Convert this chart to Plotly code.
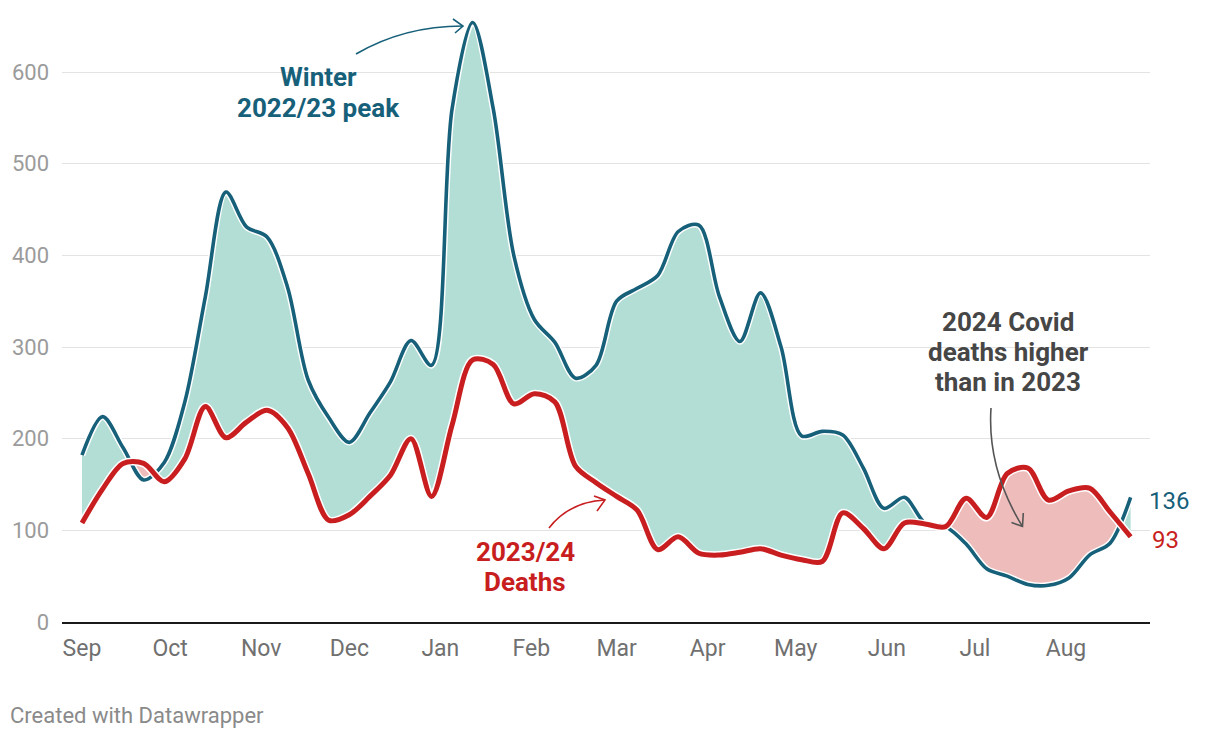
import plotly.graph_objects as go
import pandas as pd

# ---------------- data ----------------
week_start = pd.date_range("2023-09-01", periods=52, freq="7D")

deaths_2022_23 = [182, 224, 190, 155, 174, 240, 355, 469, 431, 420,
                  365, 264, 223, 196, 228, 262, 307, 280, 560, 654,
                  560, 400, 330, 305, 266, 280, 350, 364, 378, 426,
                  433, 355, 306, 359, 300, 203, 208, 204, 168, 124,
                  136, 108, 104, 85, 58, 50, 41, 40, 48, 73,
                  86, 136]

deaths_2023_24 = [108, 145, 173, 173, 153, 178, 235, 201, 218, 231,
                  212, 162, 111, 117, 137, 160, 200, 137, 215, 286,
                  281, 238, 249, 240, 170, 152, 137, 122, 79, 93,
                  75, 73, 76, 80, 73, 68, 66, 119, 102, 80,
                  108, 107, 104, 135, 114, 162, 168, 133, 143, 146,
                  120, 93]

y_ticks = [0, 100, 200, 300, 400, 500, 600]

# ---------------- style ----------------
TEAL = "#17607a"
RED = "#c81e20"
TEAL_FILL = "#b3ded5"
PINK_FILL = "#efbcbc"
GREY_TXT = "#464646"
FONT = "Roboto, sans-serif"

W, H = 1220, 738
L, R, T, B = 62, 1150, 8, 622          # plot area in pixels
PX_PER_UNIT = (622 - 72) / 600.0
y_top = (B - T) / PX_PER_UNIT

px_per_day = (1066 - 82) / 335.0
x_start = week_start[0] - pd.Timedelta(days=(82 - L) / px_per_day)
x_end = week_start[0] + pd.Timedelta(days=(R - 82) / px_per_day)


def px(x, y):
    return (x - L) / (R - L), (B - y) / (B - T)


def to_time(t):
    return week_start[0] + pd.Timedelta(days=7 * t)


# segments where 2023/24 is above 2022/23 (crossings computed from data)
n = len(week_start)
segments = []
cur = None
for i in range(n):
    d = deaths_2023_24[i] - deaths_2022_23[i]
    if d > 0:
        if cur is None:
            cur = []
            if i > 0:
                dp = deaths_2023_24[i - 1] - deaths_2022_23[i - 1]
                f = dp / (dp - d)
                yc = deaths_2022_23[i - 1] + (deaths_2022_23[i] - deaths_2022_23[i - 1]) * f
                cur.append((i - 1 + f, yc, yc))
        cur.append((i, deaths_2023_24[i], deaths_2022_23[i]))
    elif cur is not None:
        dp = deaths_2023_24[i - 1] - deaths_2022_23[i - 1]
        f = dp / (dp - d)
        yc = deaths_2022_23[i - 1] + (deaths_2022_23[i] - deaths_2022_23[i - 1]) * f
        cur.append((i - 1 + f, yc, yc))
        segments.append(cur)
        cur = None
if cur:
    segments.append(cur)

SM = 0.9
fig = go.Figure()

# teal fill between the two lines
fig.add_trace(go.Scatter(x=week_start, y=deaths_2023_24, mode="lines",
                         line=dict(width=0, shape="spline", smoothing=SM),
                         hoverinfo="skip", showlegend=False))
fig.add_trace(go.Scatter(x=week_start, y=deaths_2022_23, mode="lines",
                         line=dict(width=0, shape="spline", smoothing=SM),
                         fill="tonexty", fillcolor=TEAL_FILL,
                         hoverinfo="skip", showlegend=False))

# pink fill where 2023/24 is higher
for seg in segments:
    xs = [to_time(s[0]) for s in seg]
    fig.add_trace(go.Scatter(x=xs, y=[s[2] for s in seg], mode="lines",
                             line=dict(width=0, shape="spline", smoothing=SM),
                             hoverinfo="skip", showlegend=False))
    fig.add_trace(go.Scatter(x=xs, y=[s[1] for s in seg], mode="lines",
                             line=dict(width=0, shape="spline", smoothing=SM),
                             fill="tonexty", fillcolor=PINK_FILL,
                             hoverinfo="skip", showlegend=False))

# lines with white halos
fig.add_trace(go.Scatter(x=week_start, y=deaths_2022_23, mode="lines",
                         line=dict(color="white", width=6.5, shape="spline", smoothing=SM),
                         hoverinfo="skip", showlegend=False))
fig.add_trace(go.Scatter(x=week_start, y=deaths_2022_23, mode="lines", name="2022/23",
                         line=dict(color=TEAL, width=3.6, shape="spline", smoothing=SM),
                         showlegend=False))
fig.add_trace(go.Scatter(x=week_start, y=deaths_2023_24, mode="lines",
                         line=dict(color="white", width=8, shape="spline", smoothing=SM),
                         hoverinfo="skip", showlegend=False))
fig.add_trace(go.Scatter(x=week_start, y=deaths_2023_24, mode="lines", name="2023/24",
                         line=dict(color=RED, width=5, shape="spline", smoothing=SM),
                         showlegend=False))

annotations = []


def text_px(x, y, txt, color, size=26, xanchor="center"):
    ax, ay = px(x, y)
    annotations.append(dict(x=ax, y=ay, xref="paper", yref="paper", text=txt,
                            showarrow=False, xanchor=xanchor, yanchor="middle",
                            align="center", font=dict(family=FONT, size=size, color=color)))


def text_lines(x, ys, lines, color):
    for y, line in zip(ys, lines):
        text_px(x, y, f"<b>{line}</b>", color)


text_lines(318, [77, 108], ["Winter", "2022/23 peak"], TEAL)
text_lines(525, [552, 582], ["2023/24", "Deaths"], RED)
text_lines(1008, [322, 352, 382], ["2024 Covid", "deaths higher", "than in 2023"], GREY_TXT)

# end labels
annotations.append(dict(x=week_start[-1], y=deaths_2022_23[-1], xref="x", yref="y",
                        text=str(deaths_2022_23[-1]), showarrow=False, xanchor="left",
                        yanchor="middle", xshift=16, yshift=-4,
                        font=dict(family=FONT, size=24, color=TEAL)))
annotations.append(dict(x=week_start[-1], y=deaths_2023_24[-1], xref="x", yref="y",
                        text=str(deaths_2023_24[-1]), showarrow=False, xanchor="left",
                        yanchor="middle", xshift=19, yshift=-3,
                        font=dict(family=FONT, size=24, color=RED)))

# footer
fx, fy = px(8, 715)
annotations.append(dict(x=fx, y=fy, xref="paper", yref="paper",
                        text="Created with Datawrapper", showarrow=False,
                        xanchor="left", yanchor="middle",
                        font=dict(family=FONT, size=22, color="#8a8a8a")))

shapes = []


def curve_arrow(p0, c, p2, head1, head2, color):
    a = px(*p0); b = px(*c); e = px(*p2)
    h1 = px(*head1); h2 = px(*head2)
    shapes.append(dict(type="path", xref="paper", yref="paper",
                       path=f"M {a[0]},{a[1]} Q {b[0]},{b[1]} {e[0]},{e[1]}",
                       line=dict(color=color, width=1.6)))
    shapes.append(dict(type="path", xref="paper", yref="paper",
                       path=f"M {h1[0]},{h1[1]} L {e[0]},{e[1]} L {h2[0]},{h2[1]}",
                       line=dict(color=color, width=1.6)))


curve_arrow((356, 54), (404, 26), (463, 26), (453, 19), (455, 33), TEAL)
curve_arrow((549, 528), (569, 502), (605, 500), (594, 496), (597, 511), RED)
curve_arrow((991, 408), (987, 469), (1022.5, 526.5), (1011.5, 522.5), (1023.3, 513), "#555555")

fig.update_layout(
    width=W, height=H,
    margin=dict(l=L, r=W - R, t=T, b=H - B),
    paper_bgcolor="white", plot_bgcolor="white",
    showlegend=False,
    annotations=annotations,
    shapes=shapes,
    hovermode=False,
    xaxis=dict(type="date", range=[x_start, x_end], tickformat="%b", dtick="M1",
               tick0="2023-09-01", showgrid=False, zeroline=False,
               showline=True, linecolor="#1a1a1a", linewidth=2,
               ticks="", ticklabelstandoff=4,
               tickfont=dict(family=FONT, size=23, color="#707070")),
    yaxis=dict(range=[0, y_top], tickvals=y_ticks, showgrid=True,
               gridcolor="#e3e3e3", gridwidth=1, zeroline=False,
               showline=False, ticks="", ticklabelstandoff=12,
               tickfont=dict(family=FONT, size=22, color="#9b9b9b")),
)

fig.write_html("out.html", config={"displayModeBar": False},
               post_script="document.body.style.margin='0px';")
